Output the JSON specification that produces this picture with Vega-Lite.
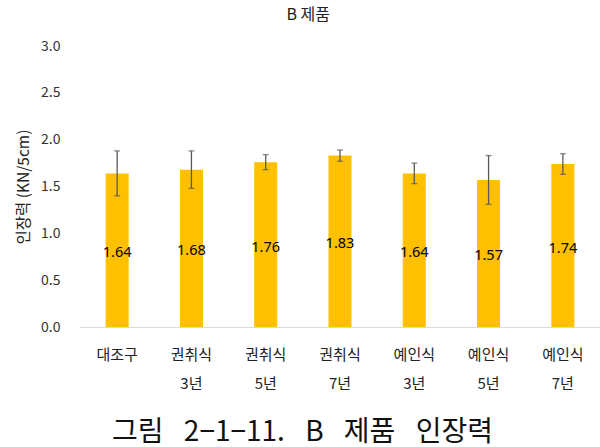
{
  "$schema": "https://vega.github.io/schema/vega-lite/v6.json",
  "width": 520,
  "height": 281,
  "autosize": {"type": "none"},
  "padding": {"left": 80, "top": 46, "right": 0, "bottom": 120},
  "background": "white",
  "config": {
    "view": {"stroke": null},
    "font": "Noto Sans CJK KR",
    "axis": {"labelFont": "Noto Sans CJK KR", "titleFont": "Noto Sans CJK KR"}
  },
  "title": {
    "text": "B 제품",
    "fontSize": 16,
    "fontWeight": "normal",
    "color": "#222222",
    "offset": 16,
    "frame": "bounds",
    "anchor": "middle",
    "font": "Noto Sans CJK KR"
  },
  "data": {
    "values": [
      {"g": "대조구", "v": 1.64, "e": 0.24},
      {"g": "권취식|3년", "v": 1.68, "e": 0.2},
      {"g": "권취식|5년", "v": 1.76, "e": 0.08},
      {"g": "권취식|7년", "v": 1.83, "e": 0.06},
      {"g": "예인식|3년", "v": 1.64, "e": 0.11},
      {"g": "예인식|5년", "v": 1.57, "e": 0.26},
      {"g": "예인식|7년", "v": 1.74, "e": 0.11}
    ]
  },
  "encoding": {
    "x": {
      "field": "g",
      "type": "nominal",
      "sort": null,
      "scale": {"paddingInner": 0.69, "paddingOuter": 0.345},
      "axis": {
        "title": "그림\u00a0\u20022−1−11.\u00a0\u2002B\u00a0\u2002제품\u00a0\u2002인장력",
        "titleFontSize": 28,
        "titleFontWeight": "normal",
        "titleColor": "#111111",
        "titlePadding": 27,
        "titleX": 222,
        "labelExpr": "split(datum.label, '|')",
        "labelAngle": 0,
        "labelFontSize": 15,
        "labelColor": "#222222",
        "labelLineHeight": 29,
        "labelPadding": 20,
        "ticks": false,
        "domainColor": "#d9d9d9",
        "domainWidth": 1
      }
    }
  },
  "layer": [
    {
      "mark": {"type": "bar", "color": "#FFC000"},
      "encoding": {
        "y": {
          "field": "v",
          "type": "quantitative",
          "scale": {"domain": [0, 3]},
          "title": "인장력 (KN/5cm)",
          "axis": {
            "titleFontSize": 15.5,
            "titleFontWeight": "normal",
            "titleColor": "#222222",
            "titlePadding": 9,
            "values": [0, 0.5, 1, 1.5, 2, 2.5, 3],
            "format": ".1f",
            "labelFontSize": 14,
            "labelColor": "#333333",
            "labelPadding": 20,
            "grid": false,
            "domain": false,
            "ticks": false
          }
        }
      }
    },
    {
      "mark": {"type": "errorbar", "color": "#595959", "thickness": 1.3, "ticks": {"size": 6, "color": "#595959", "thickness": 1.3}},
      "encoding": {
        "y": {"field": "v", "type": "quantitative", "title": "인장력 (KN/5cm)"},
        "yError": {"field": "e"}
      }
    },
    {
      "transform": [{"calculate": "datum.v / 2", "as": "mid"}],
      "mark": {"type": "text", "fontSize": 14.5, "color": "#000000", "font": "Noto Sans", "baseline": "middle", "dy": 3},
      "encoding": {
        "y": {"field": "mid", "type": "quantitative", "title": "인장력 (KN/5cm)"},
        "text": {"field": "v", "type": "quantitative", "format": ".2f"}
      }
    }
  ]
}
